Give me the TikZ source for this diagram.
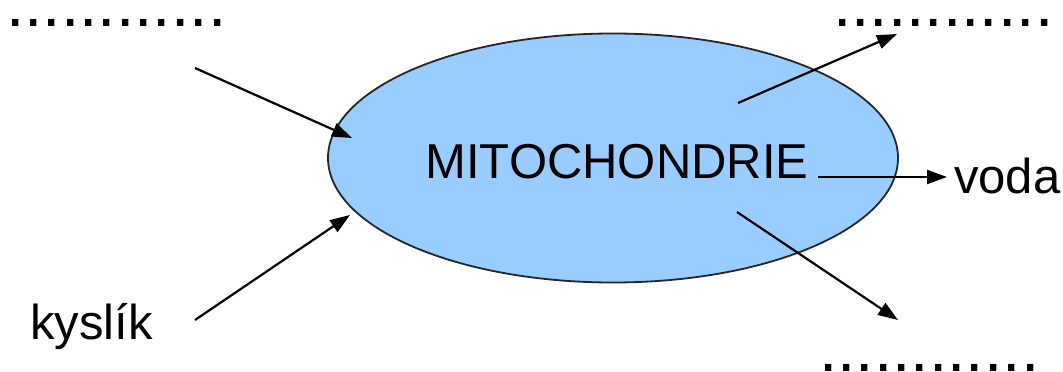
\documentclass[tikz,border=0pt]{standalone}
\usepackage{fontspec}
\setmainfont{Liberation Sans}
\usepackage{tikz}
\usepackage{xcolor}
\usetikzlibrary{shapes.geometric, arrows.meta, positioning, calc}
\definecolor{cellblue}{RGB}{153,204,255}

\begin{document}
\begin{tikzpicture}[x=1pt,y=-1pt,
  arr/.style={-{Triangle[length=20pt,width=14pt]}, line width=2.2pt},
  blanks/.style={anchor=base west, inner sep=0pt, font=\fontsize{66}{66}\selectfont},
  txt/.style={inner sep=0pt, font=\fontsize{49}{49}\selectfont}]
\useasboundingbox (0,0) rectangle (1063,372);

% Mitochondrie
\node[ellipse, draw=black!85, line width=1.8pt, fill=cellblue,
      minimum width=570pt, minimum height=249pt] (cell) at (613,158) {};
\node[txt, anchor=base] (mito) at (617,178) {MITOCHONDRIE};

% Blanks to fill in
\node[blanks] (blankA) at (6,27) {............};
\node[blanks] (blankB) at (833,27) {............};
\node[blanks] (blankC) at (819,371.5) {............};

% Inputs
\node[txt, anchor=base west] (kyslik) at (30,339) {kyslík};
\coordinate (inA) at (195,68);
\coordinate (tipA) at (352,138);
\coordinate (inB) at (195,320);
\coordinate (tipB) at (350,215);
\draw[arr] (inA) -- (tipA);
\draw[arr] (inB) -- (tipB);

% Outputs
\node[txt, anchor=base west] (voda) at (954,193) {voda};
\coordinate (outA) at (738,103);
\coordinate (tipC) at (897,34);
\coordinate (outB) at (818,177);
\coordinate (outC) at (737,212);
\coordinate (tipD) at (898,320);
\draw[arr] (outA) -- (tipC);
\draw[arr, shorten >=7pt] (outB) -- (outB -| voda.west);
\draw[arr] (outC) -- (tipD);
\end{tikzpicture}
\end{document}
